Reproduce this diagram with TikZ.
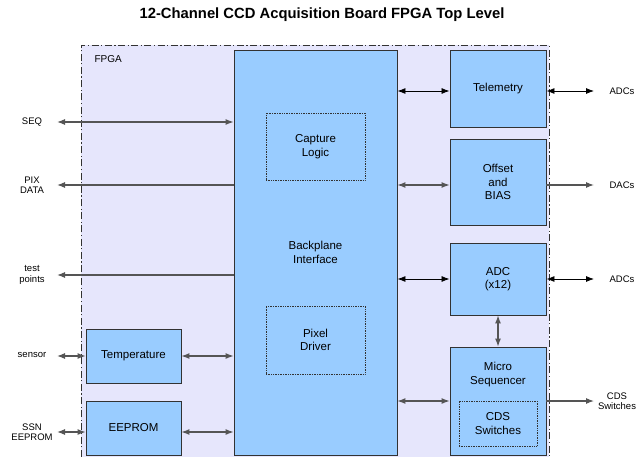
\documentclass[tikz,border=0pt]{standalone}
\usepackage{fontspec}
\setmainfont{Liberation Sans}
\usetikzlibrary{arrows.meta}
\definecolor{fpgabg}{RGB}{230,230,252}
\definecolor{blk}{RGB}{153,204,255}
\definecolor{edge}{RGB}{50,50,50}
\definecolor{wire}{RGB}{85,85,85}
\tikzset{
  block/.style={draw=edge, line width=0.9pt, fill=blk, align=center, font=\fontsize{11.5}{13.5}\selectfont},
  inner/.style={draw=edge, densely dotted, line width=0.7pt, align=center, font=\fontsize{11.5}{13.5}\selectfont},
  side/.style={align=center, font=\fontsize{9.5}{10.5}\selectfont},
  wirestyle/.style={draw=wire, line width=1.1pt},
  both/.style={wirestyle, {Latex[length=8pt,width=6pt]}-{Latex[length=8pt,width=6pt]}},
  one/.style={wirestyle, -{Latex[length=8pt,width=6pt]}},
}
\begin{document}
\begin{tikzpicture}[x=1pt,y=-1pt]
\useasboundingbox (0,0) rectangle (639,457);
\node[font=\bfseries\fontsize{14.8}{17}\selectfont] (title) at (322,15) {12-Channel CCD Acquisition Board FPGA Top Level};
% FPGA region
\fill[fpgabg] (81,45) rectangle (549,470);
\draw[edge, line width=0.8pt, dash pattern=on 7pt off 2.5pt on 1.2pt off 2.5pt] (81,470) -- (81,45) -- (549,45) -- (549,470);
\node[anchor=west, font=\fontsize{10}{12}\selectfont] (fpga) at (91,59) {FPGA};
% blocks
\node[block, minimum width=163pt, minimum height=405pt] (bp) at (315.5,252.5) {Backplane\\Interface};
\node[inner, minimum width=99pt, minimum height=67pt] (cap) at (315.5,146.5) {Capture\\Logic};
\node[inner, minimum width=99pt, minimum height=68pt] (pix) at (315.5,340) {Pixel\\Driver};
\node[block, minimum width=96pt, minimum height=77pt] (tel) at (498,88.5) {Telemetry};
\node[block, minimum width=96pt, minimum height=86pt] (off) at (498,182) {Offset\\and\\BIAS};
\node[block, minimum width=96pt, minimum height=72pt] (adc) at (498,279) {ADC\\(x12)};
\node[block, minimum width=96pt, minimum height=108pt, text depth=55pt] (mic) at (498,401) {Micro\\Sequencer};
\node[inner, minimum width=78pt, minimum height=45pt] (cds) at (498,423.5) {CDS\\Switches};
\node[block, minimum width=95pt, minimum height=54pt] (temp) at (133.5,356) {Temperature};
\node[block, minimum width=95pt, minimum height=54pt] (eep) at (133.5,428) {EEPROM};
% side labels
\node[side] (seq) at (32,122) {SEQ};
\node[side] (pixd) at (32,185) {PIX\\DATA};
\node[side] (tp) at (32,275) {test\\points};
\node[side] (sen) at (32,355) {sensor};
\node[side] (ssn) at (32,432) {SSN\\EEPROM};
\node[side] (adc1) at (622,91) {ADCs};
\node[side] (dacs) at (622,185) {DACs};
\node[side] (adc2) at (622,279) {ADCs};
\node[side] (cdsl) at (617,401) {CDS\\Switches};
% free ends
\coordinate (seqE) at (57,122);
\coordinate (pixE) at (57,185);
\coordinate (tpE) at (57,275);
\coordinate (senE) at (57,356);
\coordinate (ssnE) at (57,432);
\coordinate (telE) at (594,91);
\coordinate (offE) at (594,185);
\coordinate (adcE) at (594,279);
\coordinate (micE) at (594,401);
% left connectors
\draw[both] (seqE) -- (seqE -| bp.west);
\draw[one] (pixE -| bp.west) -- (pixE);
\draw[one] (tpE -| bp.west) -- (tpE);
\draw[both] (senE) -- (senE -| temp.west);
\draw[both] (ssnE) -- (ssnE -| eep.west);
\draw[both] (temp.east) -- (temp.east -| bp.west);
\draw[both] (eep.east |- ssnE) -- (ssnE -| bp.west);
% right connectors
\draw[both, draw=black, line width=0.8pt] (telE -| bp.east) -- (telE -| tel.west);
\draw[both, draw=black, line width=0.8pt] (telE -| tel.east) -- (telE);
\draw[both] (offE -| bp.east) -- (offE -| off.west);
\draw[one] (offE -| off.east) -- (offE);
\draw[both, draw=black, line width=0.8pt] (adcE -| bp.east) -- (adcE -| adc.west);
\draw[both, draw=black, line width=0.8pt] (adcE -| adc.east) -- (adcE);
\draw[both] (adc.south) -- (mic.north);
\draw[both] (micE -| bp.east) -- (micE -| mic.west);
\draw[one] (micE -| mic.east) -- (micE);
\end{tikzpicture}
\end{document}
